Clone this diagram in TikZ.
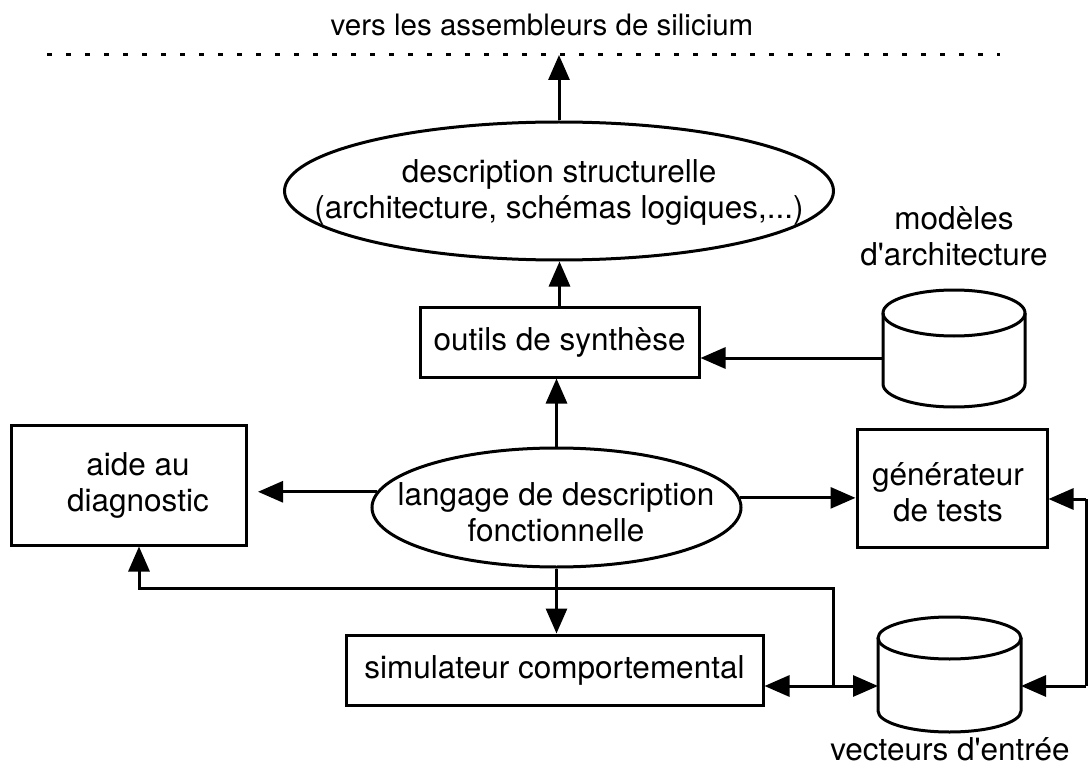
\documentclass[tikz,border=0pt]{standalone}
\usepackage{fontspec}
\setmainfont{TeX Gyre Heros}
\usetikzlibrary{arrows.meta,shapes.geometric,calc}

% upright drum (database symbol) drawn over an invisible rectangular node
% #1 node name, #2 x radius, #3 y radius of the caps
\newcommand\drawdrum[3]{%
  \draw[ln] ($(#1.north)+(0,#3)$) ellipse [x radius=#2pt, y radius=#3pt];
  \draw[ln, line join=round] ($(#1.north west)+(0,#3)$) -- ($(#1.south west)+(0,-#3)$)
    .. controls +(0,{0.5523*#3}) and +({-0.5523*#2},0) .. (#1.south)
    .. controls +({0.5523*#2},0) and +(0,{0.5523*#3}) .. ($(#1.south east)+(0,-#3)$)
    -- ($(#1.north east)+(0,#3)$);
}

\begin{document}
\begin{tikzpicture}[x=1pt,y=-1pt,
  ln/.style={line width=3pt, black},
  arr/.style={ln, -{Triangle[length=25pt,width=21pt]}},
  box/.style={draw, ln, rectangle, inner sep=0pt},
  oval/.style={draw, ln, ellipse, inner sep=0pt},
  lbl/.style={align=center, font=\fontsize{31.5}{36}\selectfont, inner sep=0pt},
  hole/.style={rectangle, inner sep=0pt, outer sep=0pt},
]
\fill[white] (0,0) rectangle (1088,765);
\useasboundingbox (0,0) rectangle (1088,765);

% upper limit of the flow
\node[lbl, font=\fontsize{29.5}{36}\selectfont] (title) at (542,24.5) {vers les assembleurs de silicium};
\coordinate (dl) at (47,55);
\coordinate (dr) at (1000,55);
\draw[line width=3pt, dash pattern=on 5pt off 14pt] (dl) -- (dr);

% structural description
\node[oval, minimum width=549, minimum height=138] (struct) at (559,191) {};
\node[lbl] (structtext) at (559,192) {description structurelle\\(architecture, schémas logiques,...)};

% synthesis and architecture models
\node[box, lbl, minimum width=279, minimum height=70] (outils) at (559.5,342) {outils de synthèse};
\node[hole, minimum width=142, minimum height=117] (mod) at (954,348.5) {};
\drawdrum{mod}{71}{23}
\node[lbl] (modtext) at (954,236) {modèles\\d\textquotesingle architecture};

% functional description and its neighbours
\node[oval, minimum width=369, minimum height=119] (lang) at (556.5,507.5) {};
\node[lbl] (langtext) at (556,512) {langage de description\\fonctionnelle};
\node[box, minimum width=235, minimum height=120] (aide) at (128.5,485) {};
\node[lbl] (aidetext) at (138,485) {aide au\\diagnostic};
\node[box, minimum width=190, minimum height=118] (gen) at (952,488) {};
\node[lbl] (gentext) at (948,492) {générateur\\de tests};

% simulation and input vectors
\node[box, lbl, minimum width=417, minimum height=70] (sim) at (554.5,670) {simulateur comportemental};
\node[hole, minimum width=143, minimum height=115] (vec) at (949.5,674.5) {};
\drawdrum{vec}{71.5}{21}
\node[lbl] (vectext) at (950,749) {vecteurs d\textquotesingle entrée};

% connectors
\draw[arr] (struct.north) -- (struct.north |- dl);
\draw[arr] (outils.north) -- (outils.north |- struct.south);
\draw[arr] (lang.north) -- (lang.north |- outils.south);
\draw[arr] (lang.south) -- (lang.south |- sim.north);

\coordinate (mw) at ([yshift=-9.5pt]mod.west);
\draw[arr] (mw) -- (mw -| outils.east);

\coordinate (aidetip) at (258,492);
\draw[arr] (lang.175) -- (lang.175 -| aidetip);
\draw[arr] (lang.3) -- (lang.3 -| gen.west);

\coordinate (rt) at (1086,499);
\coordinate (rb) at (1086,686);
\draw[ln] (rt) -- (rb);
\draw[arr] (rt) -- (rt -| gen.east);
\draw[arr] (rb) -- (rb -| vec.east);

\coordinate (j) at (833,686);
\coordinate (ja) at (139,588);
\draw[arr] (j) |- (ja) -- (ja |- aide.south);
\draw[arr] (j) -- (j -| sim.east);
\draw[arr] (j) -- (j -| vec.west);
\end{tikzpicture}
\end{document}
